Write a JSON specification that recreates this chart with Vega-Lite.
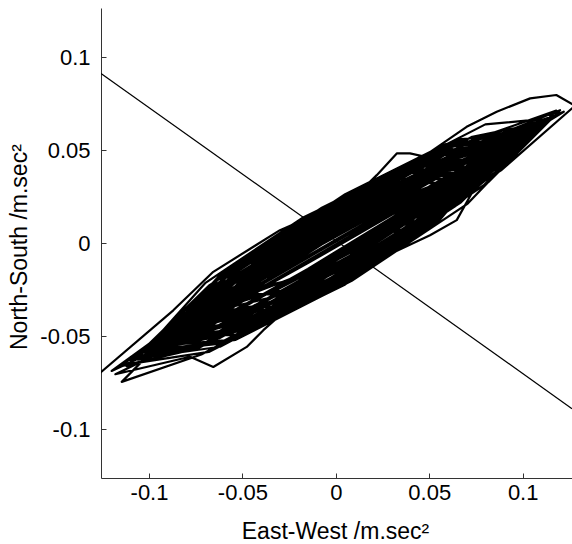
{
"$schema":"https://vega.github.io/schema/vega-lite/v6.json",
"width":471,"height":470,
"autosize":"none",
"padding":{"left":101,"top":8,"right":0,"bottom":66},
"background":"white",
"config":{"view":{"stroke":null},"font":"Liberation Sans"},
"datasets":{
"ref":[{"x":-0.1257,"y":0.0914},{"x":0.1264,"y":-0.0889}],
"loops":[
{"i":1,"x":-0.128,"y":-0.0712},{"i":2,"x":-0.087,"y":-0.036},{"i":3,"x":-0.0656,"y":-0.0153},{"i":4,"x":-0.0299,"y":0.0071},{"i":5,"x":-0.0174,"y":0.0125},{"i":6,"x":0.03,"y":0.034},{"i":7,"x":0.08,"y":0.055},{"i":8,"x":0.112,"y":0.067},{"i":9,"x":0.0716,"y":0.0332},{"i":10,"x":0.011,"y":-0.0056},
{"i":11,"x":-0.0496,"y":-0.0396},{"i":12,"x":-0.09,"y":-0.0542},{"i":13,"x":-0.053,"y":-0.0203},{"i":14,"x":0.0025,"y":0.0155},{"i":15,"x":0.058,"y":0.0452},{"i":16,"x":0.095,"y":0.0551},{"i":17,"x":0.055,"y":0.0179},{"i":18,"x":-0.005,"y":-0.0199},{"i":19,"x":-0.065,"y":-0.0505},{"i":20,"x":-0.105,"y":-0.0589},
{"i":21,"x":-0.06,"y":-0.022},{"i":22,"x":-0.01,"y":0.012},{"i":23,"x":0.03,"y":0.035},{"i":24,"x":0.07,"y":0.0627},{"i":25,"x":0.0861,"y":0.0708},{"i":26,"x":0.104,"y":0.078},{"i":27,"x":0.118,"y":0.0798},{"i":28,"x":0.128,"y":0.074},{"i":29,"x":0.0884,"y":0.0393},{"i":30,"x":0.029,"y":0.0012},
{"i":31,"x":-0.0304,"y":-0.0313},{"i":32,"x":-0.07,"y":-0.0436},{"i":33,"x":-0.04,"y":-0.0188},{"i":34,"x":0.005,"y":0.0104},{"i":35,"x":0.05,"y":0.0364},{"i":36,"x":0.08,"y":0.0484},{"i":37,"x":0.042,"y":0.0212},{"i":38,"x":-0.015,"y":-0.0137},{"i":39,"x":-0.072,"y":-0.0462},{"i":40,"x":-0.11,"y":-0.0638},
{"i":41,"x":-0.068,"y":-0.0228},{"i":42,"x":-0.005,"y":0.0186},{"i":43,"x":0.058,"y":0.052},{"i":44,"x":0.1,"y":0.061},{"i":45,"x":0.068,"y":0.0254},{"i":46,"x":0.02,"y":-0.0079},{"i":47,"x":-0.028,"y":-0.0332},{"i":48,"x":-0.06,"y":-0.0368},{"i":49,"x":-0.034,"y":-0.0175},{"i":50,"x":0.005,"y":0.0074},
{"i":51,"x":0.044,"y":0.0307},{"i":52,"x":0.07,"y":0.0436},{"i":53,"x":0.037,"y":0.0155},{"i":54,"x":-0.0125,"y":-0.0168},{"i":55,"x":-0.062,"y":-0.045},{"i":56,"x":-0.095,"y":-0.0571},{"i":57,"x":-0.053,"y":-0.0227},{"i":58,"x":0.01,"y":0.0168},{"i":59,"x":0.073,"y":0.0515},{"i":60,"x":0.115,"y":0.0667},
{"i":61,"x":0.076,"y":0.0317},{"i":62,"x":0.0175,"y":-0.0049},{"i":63,"x":-0.041,"y":-0.035},{"i":64,"x":-0.08,"y":-0.0444},{"i":65,"x":-0.052,"y":-0.0146},{"i":66,"x":-0.01,"y":0.0122},{"i":67,"x":0.032,"y":0.0318},{"i":68,"x":0.06,"y":0.0328},{"i":69,"x":0.0244,"y":0.009},{"i":70,"x":-0.029,"y":-0.0228},
{"i":71,"x":-0.0824,"y":-0.053},{"i":72,"x":-0.118,"y":-0.0704},{"i":73,"x":-0.078,"y":-0.061},{"i":74,"x":-0.0656,"y":-0.0665},{"i":75,"x":-0.0477,"y":-0.0557},{"i":76,"x":-0.0388,"y":-0.0467},{"i":77,"x":0,"y":-0.012},{"i":78,"x":0.06,"y":0.03},{"i":79,"x":0.105,"y":0.0629},{"i":80,"x":0.074,"y":0.0381},
{"i":81,"x":0.0275,"y":0.009},{"i":82,"x":-0.019,"y":-0.017},{"i":83,"x":-0.05,"y":-0.029},{"i":84,"x":-0.022,"y":0.0004},{"i":85,"x":0.02,"y":0.0286},{"i":86,"x":0.062,"y":0.0504},{"i":87,"x":0.09,"y":0.0542},{"i":88,"x":0.052,"y":0.0136},{"i":89,"x":-0.005,"y":-0.0254},{"i":90,"x":-0.062,"y":-0.0556},
{"i":91,"x":-0.1,"y":-0.061},{"i":92,"x":-0.063,"y":-0.0339},{"i":93,"x":-0.0075,"y":0.0007},{"i":94,"x":0.048,"y":0.0328},{"i":95,"x":0.085,"y":0.0503},{"i":96,"x":0.053,"y":0.0207},{"i":97,"x":0.005,"y":-0.0106},{"i":98,"x":-0.043,"y":-0.0367},{"i":99,"x":-0.075,"y":-0.0455},{"i":100,"x":-0.0356,"y":-0.0142},
{"i":101,"x":0.0235,"y":0.0227},{"i":102,"x":0.0826,"y":0.0555},{"i":103,"x":0.122,"y":0.0708},{"i":104,"x":0.0806,"y":0.0454},{"i":105,"x":0.0185,"y":0.0093},{"i":106,"x":-0.0436,"y":-0.0261},{"i":107,"x":-0.085,"y":-0.0483},{"i":108,"x":-0.058,"y":-0.0164},{"i":109,"x":-0.0175,"y":0.0104},{"i":110,"x":0.023,"y":0.0287},
{"i":111,"x":0.05,"y":0.027},{"i":112,"x":0.027,"y":-0.0001},{"i":113,"x":-0.0075,"y":-0.0239},{"i":114,"x":-0.042,"y":-0.0408},{"i":115,"x":-0.065,"y":-0.0407},{"i":116,"x":-0.032,"y":-0.0198},{"i":117,"x":0.0175,"y":0.0097},{"i":118,"x":0.067,"y":0.0383},{"i":119,"x":0.1,"y":0.056},{"i":120,"x":0.057,"y":0.0163},
{"i":121,"x":-0.0075,"y":-0.0254},{"i":122,"x":-0.072,"y":-0.0598},{"i":123,"x":-0.1146,"y":-0.0745},{"i":124,"x":-0.077,"y":-0.0363},{"i":125,"x":-0.02,"y":0.0014},{"i":126,"x":0.037,"y":0.0335},{"i":127,"x":0.075,"y":0.0455},{"i":128,"x":0.052,"y":0.023},{"i":129,"x":0.0175,"y":0.0002},{"i":130,"x":-0.017,"y":-0.0183},
{"i":131,"x":-0.04,"y":-0.0232},{"i":132,"x":-0.01,"y":0.01},{"i":133,"x":0.035,"y":0.0408},{"i":134,"x":0.08,"y":0.064},{"i":135,"x":0.11,"y":0.0668},{"i":136,"x":0.085,"y":0.038},{"i":137,"x":0.0736,"y":0.0286},{"i":138,"x":0.0647,"y":0.0125},{"i":139,"x":0.0504,"y":0.0044},{"i":140,"x":0.02,"y":-0.01},
{"i":141,"x":-0.04,"y":-0.04},{"i":142,"x":-0.09,"y":-0.0502},{"i":143,"x":-0.059,"y":-0.0302},{"i":144,"x":-0.0125,"y":-0.0033},{"i":145,"x":0.034,"y":0.0225},{"i":146,"x":0.065,"y":0.0377},{"i":147,"x":0.032,"y":0.0132},{"i":148,"x":-0.0175,"y":-0.0167},{"i":149,"x":-0.067,"y":-0.0437},{"i":150,"x":-0.1,"y":-0.057},
{"i":151,"x":-0.062,"y":-0.0222},{"i":152,"x":-0.005,"y":0.0131},{"i":153,"x":0.052,"y":0.0416},{"i":154,"x":0.09,"y":0.0492},{"i":155,"x":0.058,"y":0.0196},{"i":156,"x":0.01,"y":-0.0097},{"i":157,"x":-0.038,"y":-0.033},{"i":158,"x":-0.07,"y":-0.0386},{"i":159,"x":-0.04,"y":-0.012},{"i":160,"x":0,"y":0.015},
{"i":161,"x":0.0219,"y":0.0367},{"i":162,"x":0.0326,"y":0.0484},{"i":163,"x":0.0397,"y":0.0484},{"i":164,"x":0.055,"y":0.045},{"i":165,"x":0.032,"y":0.0134},{"i":166,"x":-0.0025,"y":-0.0149},{"i":167,"x":-0.037,"y":-0.0356},{"i":168,"x":-0.06,"y":-0.0368},{"i":169,"x":-0.032,"y":-0.0114},{"i":170,"x":0.01,"y":0.0158},
{"i":171,"x":0.052,"y":0.0386},{"i":172,"x":0.08,"y":0.0464},{"i":173,"x":0.0424,"y":0.0226},{"i":174,"x":-0.014,"y":-0.0101},{"i":175,"x":-0.0704,"y":-0.0416},{"i":176,"x":-0.108,"y":-0.0606},{"i":177,"x":-0.0628,"y":-0.0238},{"i":178,"x":0.005,"y":0.0184},{"i":179,"x":0.0728,"y":0.0554},{"i":180,"x":0.118,"y":0.0714},
{"i":181,"x":0.0788,"y":0.0309},{"i":182,"x":0.02,"y":-0.0089},{"i":183,"x":-0.0388,"y":-0.0403},{"i":184,"x":-0.078,"y":-0.0472},{"i":185,"x":-0.0488,"y":-0.0247},{"i":186,"x":-0.005,"y":0.0021},{"i":187,"x":0.0388,"y":0.0261},{"i":188,"x":0.068,"y":0.0374},{"i":189,"x":0.036,"y":0.0096},{"i":190,"x":-0.012,"y":-0.02},
{"i":191,"x":-0.06,"y":-0.0448},{"i":192,"x":-0.092,"y":-0.0534},{"i":193,"x":-0.054,"y":-0.0184},{"i":194,"x":0.003,"y":0.0182},{"i":195,"x":0.06,"y":0.0484},{"i":196,"x":0.098,"y":0.0578},{"i":197,"x":0.0674,"y":0.0331},{"i":198,"x":0.0215,"y":0.005},{"i":199,"x":-0.0244,"y":-0.0196},{"i":200,"x":-0.055,"y":-0.0299},
{"i":201,"x":-0.027,"y":0.0015},{"i":202,"x":0.015,"y":0.0287},{"i":203,"x":0.057,"y":0.0479},{"i":204,"x":0.085,"y":0.0473},{"i":205,"x":0.044,"y":0.0201},{"i":206,"x":-0.0175,"y":-0.0157},{"i":207,"x":-0.079,"y":-0.0494},{"i":208,"x":-0.12,"y":-0.0686},{"i":209,"x":-0.0744,"y":-0.0354},{"i":210,"x":-0.006,"y":0.0055},
{"i":211,"x":0.0624,"y":0.0428},{"i":212,"x":0.108,"y":0.0616},{"i":213,"x":0.0728,"y":0.0286},{"i":214,"x":0.02,"y":-0.0049},{"i":215,"x":-0.0328,"y":-0.032},{"i":216,"x":-0.068,"y":-0.0394},{"i":217,"x":-0.0454,"y":-0.0221},{"i":218,"x":-0.0115,"y":-0.0012},{"i":219,"x":0.0224,"y":0.0178},{"i":220,"x":0.045,"y":0.0271},
{"i":221,"x":0.0184,"y":-0.0003},{"i":222,"x":-0.0215,"y":-0.0275},{"i":223,"x":-0.0614,"y":-0.049},{"i":224,"x":-0.088,"y":-0.054},{"i":225,"x":-0.052,"y":-0.0177},{"i":226,"x":0.002,"y":0.0187},{"i":227,"x":0.056,"y":0.0479},{"i":228,"x":0.092,"y":0.0554},{"i":229,"x":0.0532,"y":0.0245},{"i":230,"x":-0.005,"y":-0.0119},
{"i":231,"x":-0.0632,"y":-0.0443},{"i":232,"x":-0.102,"y":-0.0592},{"i":233,"x":-0.0672,"y":-0.0382},{"i":234,"x":-0.015,"y":-0.0077},{"i":235,"x":0.0372,"y":0.0224},{"i":236,"x":0.072,"y":0.0418},{"i":237,"x":0.0486,"y":0.0136},{"i":238,"x":0.0135,"y":-0.0107},{"i":239,"x":-0.0216,"y":-0.0277},{"i":240,"x":-0.045,"y":-0.0271},
{"i":241,"x":-0.0156,"y":-0.0001},{"i":242,"x":0.0285,"y":0.0286},{"i":243,"x":0.0726,"y":0.0523},{"i":244,"x":0.102,"y":0.0602},{"i":245,"x":0.0652,"y":0.0378},{"i":246,"x":0.01,"y":0.0053},{"i":247,"x":-0.0452,"y":-0.0268},{"i":248,"x":-0.082,"y":-0.0476},{"i":249,"x":-0.0532,"y":-0.0187},{"i":250,"x":-0.01,"y":0.0097},
{"i":251,"x":0.0332,"y":0.0321},{"i":252,"x":0.062,"y":0.037},{"i":253,"x":0.03,"y":0.0076},{"i":254,"x":-0.018,"y":-0.0234},{"i":255,"x":-0.066,"y":-0.0492},{"i":256,"x":-0.098,"y":-0.0578},{"i":257,"x":-0.0608,"y":-0.0296},{"i":258,"x":-0.005,"y":0.0046},{"i":259,"x":0.0508,"y":0.0356},{"i":260,"x":0.088,"y":0.051},
{"i":261,"x":0.048,"y":0.0156},{"i":262,"x":-0.012,"y":-0.0225},{"i":263,"x":-0.072,"y":-0.0546},{"i":264,"x":-0.112,"y":-0.066},{"i":265,"x":-0.0704,"y":-0.0309},{"i":266,"x":-0.008,"y":0.0089},{"i":267,"x":0.0544,"y":0.0434},{"i":268,"x":0.096,"y":0.0577},{"i":269,"x":0.062,"y":0.0224},{"i":270,"x":0.011,"y":-0.0116},
{"i":271,"x":-0.04,"y":-0.038},{"i":272,"x":-0.074,"y":-0.0429},{"i":273,"x":-0.0372,"y":-0.0082},{"i":274,"x":0.018,"y":0.027},{"i":275,"x":0.0732,"y":0.0553},{"i":276,"x":0.11,"y":0.0628},{"i":277,"x":0.0688,"y":0.0331},{"i":278,"x":0.007,"y":-0.0035},{"i":279,"x":-0.0548,"y":-0.0368},{"i":280,"x":-0.096,"y":-0.0537},
{"i":281,"x":-0.0616,"y":-0.0179},{"i":282,"x":-0.01,"y":0.0157},{"i":283,"x":0.0416,"y":0.0413},{"i":284,"x":0.076,"y":0.0451},{"i":285,"x":0.0492,"y":0.0196},{"i":286,"x":0.009,"y":-0.0068},{"i":287,"x":-0.0312,"y":-0.0283},{"i":288,"x":-0.058,"y":-0.0346},{"i":289,"x":-0.0256,"y":-0.008},{"i":290,"x":0.023,"y":0.0229},
{"i":291,"x":0.0716,"y":0.0501},{"i":292,"x":0.104,"y":0.0623},{"i":293,"x":0.0624,"y":0.0238},{"i":294,"x":0,"y":-0.017},{"i":295,"x":-0.0624,"y":-0.051},{"i":296,"x":-0.104,"y":-0.0623},{"i":297,"x":-0.07,"y":-0.0302},{"i":298,"x":-0.019,"y":0.003},{"i":299,"x":0.032,"y":0.0302},{"i":300,"x":0.066,"y":0.0383},
{"i":301,"x":0.0356,"y":0.0041},{"i":302,"x":-0.01,"y":-0.0263},{"i":303,"x":-0.0556,"y":-0.0483},{"i":304,"x":-0.086,"y":-0.0489},{"i":305,"x":-0.046,"y":-0.0169},{"i":306,"x":0.014,"y":0.0201},{"i":307,"x":0.074,"y":0.0527},{"i":308,"x":0.114,"y":0.0671},{"i":309,"x":0.078,"y":0.0344},{"i":310,"x":0.024,"y":-0.0006},
{"i":311,"x":-0.03,"y":-0.03},{"i":312,"x":-0.066,"y":-0.0403},{"i":313,"x":-0.0412,"y":-0.0101},{"i":314,"x":-0.004,"y":0.0162},{"i":315,"x":0.0332,"y":0.0348},{"i":316,"x":0.058,"y":0.0346},{"i":317,"x":0.0276,"y":0.012},{"i":318,"x":-0.018,"y":-0.016},{"i":319,"x":-0.0636,"y":-0.0415},{"i":320,"x":-0.094,"y":-0.0545},
{"i":321,"x":-0.0564,"y":-0.0215},{"i":322,"x":0,"y":0.014},{"i":323,"x":0.0564,"y":0.0439},{"i":324,"x":0.094,"y":0.0545},{"i":325,"x":0.052,"y":0.0159},{"i":326,"x":-0.011,"y":-0.0239},{"i":327,"x":-0.074,"y":-0.0565},{"i":328,"x":-0.116,"y":-0.0663},{"i":329,"x":-0.0764,"y":-0.0399},{"i":330,"x":-0.017,"y":-0.0044},
{"i":331,"x":0.0424,"y":0.0296},{"i":332,"x":0.082,"y":0.0496},{"i":333,"x":0.0552,"y":0.0232},{"i":334,"x":0.015,"y":-0.0033},{"i":335,"x":-0.0252,"y":-0.0246},{"i":336,"x":-0.052,"y":-0.0302},{"i":337,"x":-0.0216,"y":0.0008},{"i":338,"x":0.024,"y":0.0304},{"i":339,"x":0.0696,"y":0.0532},{"i":340,"x":0.1,"y":0.057},
{"i":341,"x":0.0632,"y":0.0277},{"i":342,"x":0.008,"y":-0.0064},{"i":343,"x":-0.0472,"y":-0.0364},{"i":344,"x":-0.084,"y":-0.0497},{"i":345,"x":-0.0532,"y":-0.015},{"i":346,"x":-0.007,"y":0.016},{"i":347,"x":0.0392,"y":0.0385},{"i":348,"x":0.07,"y":0.0396},{"i":349,"x":0.036,"y":0.0077},{"i":350,"x":-0.015,"y":-0.0242},
{"i":351,"x":-0.066,"y":-0.0497},{"i":352,"x":-0.1,"y":-0.056},{"i":353,"x":-0.056,"y":-0.0225},{"i":354,"x":0.01,"y":0.0178},{"i":355,"x":0.076,"y":0.0541},{"i":356,"x":0.12,"y":0.0716},{"i":357,"x":0.0816,"y":0.0329},{"i":358,"x":0.024,"y":-0.0051},{"i":359,"x":-0.0336,"y":-0.0351},{"i":360,"x":-0.072,"y":-0.0418},
{"i":361,"x":-0.0404,"y":-0.0141},{"i":362,"x":0.007,"y":0.0156},{"i":363,"x":0.0544,"y":0.0404},{"i":364,"x":0.086,"y":0.0489},{"i":365,"x":0.0564,"y":0.0249},{"i":366,"x":0.012,"y":-0.002},{"i":367,"x":-0.0324,"y":-0.0254},{"i":368,"x":-0.062,"y":-0.035},{"i":369,"x":-0.0368,"y":-0.006},{"i":370,"x":0.001,"y":0.0196},
{"i":371,"x":0.0388,"y":0.0379},{"i":372,"x":0.064,"y":0.0381},{"i":373,"x":0.03,"y":0.006},{"i":374,"x":-0.021,"y":-0.0272},{"i":375,"x":-0.072,"y":-0.0544},{"i":376,"x":-0.106,"y":-0.0625},{"i":377,"x":-0.0636,"y":-0.0313},{"i":378,"x":0,"y":0.0075},{"i":379,"x":0.0636,"y":0.0431},{"i":380,"x":0.106,"y":0.0615},
{"i":381,"x":0.0688,"y":0.0305},{"i":382,"x":0.013,"y":-0.004},{"i":383,"x":-0.0428,"y":-0.0336},{"i":384,"x":-0.08,"y":-0.0454},{"i":385,"x":-0.0484,"y":-0.0147},{"i":386,"x":-0.001,"y":0.0154},{"i":387,"x":0.0464,"y":0.0391},{"i":388,"x":0.078,"y":0.0442},{"i":389,"x":0.0444,"y":0.0089},{"i":390,"x":-0.006,"y":-0.024},
{"i":391,"x":-0.0564,"y":-0.0489},{"i":392,"x":-0.09,"y":-0.0522},{"i":393,"x":-0.0528,"y":-0.02},{"i":394,"x":0.003,"y":0.0153},{"i":395,"x":0.0588,"y":0.0453},{"i":396,"x":0.096,"y":0.0567},{"i":397,"x":0.064,"y":0.0243},{"i":398,"x":0.016,"y":-0.0072},{"i":399,"x":-0.032,"y":-0.0319},{"i":400,"x":-0.064,"y":-0.0371},
{"i":401,"x":-0.0364,"y":-0.0049},{"i":402,"x":0.005,"y":0.0234},{"i":403,"x":0.0464,"y":0.0437},{"i":404,"x":0.074,"y":0.0439},{"i":405,"x":0.0372,"y":0.0138},{"i":406,"x":-0.018,"y":-0.0205},{"i":407,"x":-0.0732,"y":-0.0503},{"i":408,"x":-0.11,"y":-0.0628},{"i":409,"x":-0.07,"y":-0.0282},{"i":410,"x":-0.01,"y":0.0087},
{"i":411,"x":0.05,"y":0.0396},{"i":412,"x":0.09,"y":0.0502},{"i":413,"x":0.0568,"y":0.0201},{"i":414,"x":0.007,"y":-0.011},{"i":415,"x":-0.0428,"y":-0.0364},{"i":416,"x":-0.076,"y":-0.0441},{"i":417,"x":-0.0384,"y":-0.0175},{"i":418,"x":0.018,"y":0.0165},{"i":419,"x":0.0744,"y":0.048},{"i":420,"x":0.112,"y":0.065},
{"i":421,"x":0.0706,"y":0.0214},{"i":422,"x":0.0085,"y":-0.0201},{"i":423,"x":-0.0536,"y":-0.0519},{"i":424,"x":-0.095,"y":-0.0571},{"i":425,"x":-0.058,"y":-0.0174},{"i":426,"x":-0.0025,"y":0.0201},{"i":427,"x":0.053,"y":0.0487},{"i":428,"x":0.09,"y":0.0532},{"i":429,"x":0.056,"y":0.0131},{"i":430,"x":0.005,"y":-0.0221},
{"i":431,"x":-0.046,"y":-0.0473},{"i":432,"x":-0.08,"y":-0.0474},{"i":433,"x":-0.043,"y":-0.0095},{"i":434,"x":0.0125,"y":0.0273},{"i":435,"x":0.068,"y":0.056},{"i":436,"x":0.105,"y":0.0619},{"i":437,"x":0.064,"y":0.0201},{"i":438,"x":0.0025,"y":-0.0206},{"i":439,"x":-0.059,"y":-0.0524},{"i":440,"x":-0.1,"y":-0.059},
{"i":441,"x":-0.063,"y":-0.0181},{"i":442,"x":-0.0075,"y":0.0192},{"i":443,"x":0.048,"y":0.0468},{"i":444,"x":0.085,"y":0.0493},{"i":445,"x":0.054,"y":0.0153},{"i":446,"x":0.0075,"y":-0.0157},{"i":447,"x":-0.039,"y":-0.0386},{"i":448,"x":-0.07,"y":-0.0406},{"i":449,"x":-0.036,"y":-0.0039},{"i":450,"x":0.015,"y":0.0302},
{"i":451,"x":0.066,"y":0.0559},{"i":452,"x":0.1,"y":0.059},{"i":453,"x":0.058,"y":0.0158},{"i":454,"x":-0.005,"y":-0.0259},{"i":455,"x":-0.068,"y":-0.0584},{"i":456,"x":-0.11,"y":-0.0648},{"i":457,"x":-0.072,"y":-0.0272},{"i":458,"x":-0.015,"y":0.0103},{"i":459,"x":0.042,"y":0.0402},{"i":460,"x":0.08,"y":0.0474},
{"i":461,"x":0.047,"y":0.0089},{"i":462,"x":-0.0025,"y":-0.025},{"i":463,"x":-0.052,"y":-0.0492},{"i":464,"x":-0.085,"y":-0.0493},{"i":465,"x":-0.049,"y":-0.0098},{"i":466,"x":0.005,"y":0.0264},{"i":467,"x":0.059,"y":0.0534},{"i":468,"x":0.095,"y":0.0561},{"i":469,"x":0.058,"y":0.019},{"i":470,"x":0.0025,"y":-0.0176},
{"i":471,"x":-0.053,"y":-0.0465},{"i":472,"x":-0.09,"y":-0.0532},{"i":473,"x":-0.057,"y":-0.0163},{"i":474,"x":-0.0075,"y":0.0172},{"i":475,"x":0.042,"y":0.0418},{"i":476,"x":0.075,"y":0.0435},{"i":477,"x":0.045,"y":0.0091},{"i":478,"x":0,"y":-0.0215},{"i":479,"x":-0.045,"y":-0.0437},{"i":480,"x":-0.075,"y":-0.0445},
{"i":481,"x":-0.038,"y":-0.0082},{"i":482,"x":0.0175,"y":0.0282},{"i":483,"x":0.073,"y":0.0573},{"i":484,"x":0.11,"y":0.0648},{"i":485,"x":0.067,"y":0.0221},{"i":486,"x":0.0025,"y":-0.0201},{"i":487,"x":-0.062,"y":-0.0534},{"i":488,"x":-0.105,"y":-0.0609},{"i":489,"x":-0.07,"y":-0.0214},{"i":490,"x":-0.0175,"y":0.0139},
{"i":491,"x":0.035,"y":0.0395},{"i":492,"x":0.07,"y":0.0406},{"i":493,"x":0.043,"y":0.0105},{"i":494,"x":0.0025,"y":-0.0166},{"i":495,"x":-0.038,"y":-0.0364},{"i":496,"x":-0.065,"y":-0.0377},{"i":497,"x":-0.034,"y":-0.0037},{"i":498,"x":0.0125,"y":0.0273},{"i":499,"x":0.059,"y":0.0502},{"i":500,"x":0.09,"y":0.0522},
{"i":501,"x":0.053,"y":0.0123},{"i":502,"x":-0.0025,"y":-0.0245},{"i":503,"x":-0.058,"y":-0.052},{"i":504,"x":-0.095,"y":-0.0551},{"i":505,"x":-0.056,"y":-0.0157},{"i":506,"x":0.0025,"y":0.0225},{"i":507,"x":0.061,"y":0.0522},{"i":508,"x":0.1,"y":0.058},{"i":509,"x":0.064,"y":0.0211},{"i":510,"x":0.01,"y":-0.0142},
{"i":511,"x":-0.044,"y":-0.0415},{"i":512,"x":-0.08,"y":-0.0464},{"i":513,"x":-0.047,"y":-0.0089},{"i":514,"x":0.0025,"y":0.0245},{"i":515,"x":0.052,"y":0.0486},{"i":516,"x":0.085,"y":0.0493},{"i":517,"x":0.048,"y":0.0102},{"i":518,"x":-0.0075,"y":-0.0264},{"i":519,"x":-0.063,"y":-0.0541},{"i":520,"x":-0.1,"y":-0.058},
{"i":521,"x":-0.064,"y":-0.0219},{"i":522,"x":-0.01,"y":0.0132},{"i":523,"x":0.044,"y":0.0407},{"i":524,"x":0.08,"y":0.0464},{"i":525,"x":0.05,"y":0.0098},{"i":526,"x":0.005,"y":-0.0211},{"i":527,"x":-0.04,"y":-0.0424},{"i":528,"x":-0.07,"y":-0.0406},{"i":529,"x":-0.037,"y":-0.0055},{"i":530,"x":0.0125,"y":0.0273},
{"i":531,"x":0.062,"y":0.052},{"i":532,"x":0.095,"y":0.0551},{"i":533,"x":0.058,"y":0.0168},{"i":534,"x":0.0025,"y":-0.0196},{"i":535,"x":-0.053,"y":-0.0475},{"i":536,"x":-0.09,"y":-0.0522},{"i":537,"x":-0.058,"y":-0.016},{"i":538,"x":-0.01,"y":0.0162},{"i":539,"x":0.038,"y":0.0396},{"i":540,"x":0.07,"y":0.0406},
{"i":541,"x":0.039,"y":0.0074},{"i":542,"x":-0.0075,"y":-0.0234},{"i":543,"x":-0.054,"y":-0.0465},{"i":544,"x":-0.085,"y":-0.0493},{"i":545,"x":-0.048,"y":-0.0229},{"i":546,"x":0.0075,"y":0.0106},{"i":547,"x":0.063,"y":0.0417},{"i":548,"x":0.1,"y":0.0585},{"i":549,"x":0.061,"y":0.0389},{"i":550,"x":0.0025,"y":0.0055},
{"i":551,"x":-0.056,"y":-0.0296},{"i":552,"x":-0.095,"y":-0.0556},{"i":553,"x":-0.058,"y":-0.0261},{"i":554,"x":-0.0025,"y":0.0082},{"i":555,"x":0.053,"y":0.0385},{"i":556,"x":0.09,"y":0.052},{"i":557,"x":0.052,"y":0.0364},{"i":558,"x":-0.005,"y":0.005},{"i":559,"x":-0.062,"y":-0.0296},{"i":560,"x":-0.1,"y":-0.058},
{"i":561,"x":-0.061,"y":-0.025},{"i":562,"x":-0.0025,"y":0.0115},{"i":563,"x":0.056,"y":0.0428},{"i":564,"x":0.095,"y":0.055},{"i":565,"x":0.058,"y":0.0352},{"i":566,"x":0.0025,"y":0.0035},{"i":567,"x":-0.053,"y":-0.029},{"i":568,"x":-0.09,"y":-0.052}
]},
"encoding":{
"x":{"field":"x","type":"quantitative",
 "scale":{"domain":[-0.1257,0.1264],"nice":false,"zero":false},
 "axis":{"title":"East-West /m.sec²","values":[-0.1,-0.05,0,0.05,0.1],"labelExpr":"toString(datum.value)",
  "grid":false,"tickSize":-5,"tickWidth":1,"tickColor":"#333","domainColor":"#333","labelFontSize":22,"titleFontSize":23,"titleFontWeight":"normal",
  "labelColor":"black","titleColor":"black","labelBaseline":"alphabetic","labelPadding":26,"labelFlush":false,
  "titleX":234,"titleY":60.6,"titleBaseline":"alphabetic","titleAlign":"center"}},
"y":{"field":"y","type":"quantitative",
 "scale":{"domain":[-0.1262,0.1266],"nice":false,"zero":false},
 "axis":{"title":"North-South /m.sec²","values":[-0.1,-0.05,0,0.05,0.1],"labelExpr":"toString(datum.value)",
  "grid":false,"tickSize":-5,"tickWidth":1,"tickColor":"#333","domainColor":"#333","labelFontSize":22,"titleFontSize":23,"titleFontWeight":"normal",
  "labelColor":"black","titleColor":"black","labelBaseline":"middle","labelPadding":16,"labelFlush":false,
  "titleX":-74.3,"titleY":238.6,"titleBaseline":"alphabetic","titleAlign":"center","titleAngle":-90}}
},
"layer":[
{"data":{"name":"ref"},"mark":{"type":"line","color":"black","strokeWidth":1.2,"clip":true}},
{"data":{"name":"loops"},"mark":{"type":"line","color":"black","strokeWidth":2.2,"strokeJoin":"round","clip":true},
 "encoding":{"order":{"field":"i","type":"quantitative"}}}
]
}
